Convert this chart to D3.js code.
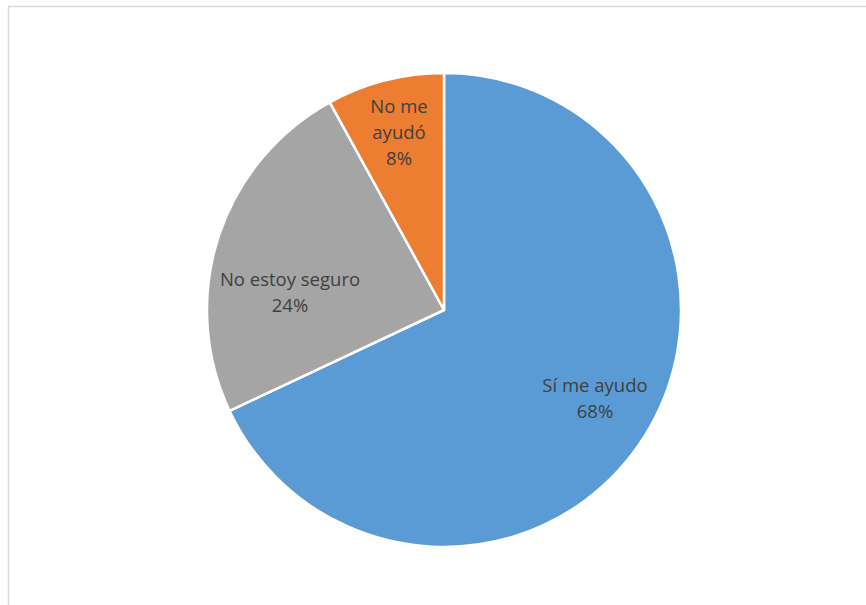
<!DOCTYPE html>
<html>
<head>
<meta charset="utf-8">
<script src="https://cdn.jsdelivr.net/npm/d3@7"></script>
<style>
  html, body { margin: 0; padding: 0; background: #fff; }
  svg { display: block; }
</style>
</head>
<body>
<svg id="chart" width="866" height="605"></svg>
<script>
// Survey responses, in drawing order clockwise from 12 o'clock
const categories = ["Sí me ayudo", "No estoy seguro", "No me ayudó"];
const values = [68, 24, 8];
const colors = ["#5B9BD5", "#A5A5A5", "#ED7D31"];
// Label text lines per slice (last line is the percentage)
const labelLines = [["Sí me ayudo"], ["No estoy seguro"], ["No me", "ayudó"]];
// Label anchor offsets from the pie centre (first-line baseline)
const labelOffsets = [[151, 82], [-154, -24], [-45, -197]];

const svg = d3.select("#chart");
const W = 866, H = 605;

// chart frame
svg.append("rect")
  .attr("x", 8.5).attr("y", 6.5)
  .attr("width", W + 10).attr("height", H + 10)
  .attr("fill", "#fff")
  .attr("stroke", "#d9d9d9")
  .attr("stroke-width", 1.5);

const cx = 444, cy = 310, r = 237;
const g = svg.append("g").attr("transform", `translate(${cx},${cy})`);

const total = d3.sum(values);
const pie = d3.pie().sort(null).value(d => d.value);
const data = categories.map((c, i) => ({ name: c, value: values[i], i }));
const arcs = pie(data);
const arc = d3.arc().innerRadius(0).outerRadius(r);

g.selectAll("path.slice")
  .data(arcs)
  .join("path")
  .attr("class", "slice")
  .attr("d", arc)
  .attr("fill", d => colors[d.data.i])
  .attr("stroke", "#fff")
  .attr("stroke-width", 2.5)
  .attr("stroke-linejoin", "round");

const lineH = 26;
const labels = g.selectAll("text.lbl")
  .data(arcs)
  .join("text")
  .attr("class", "lbl")
  .attr("text-anchor", "middle")
  .attr("font-family", "'Open Sans', Lato, sans-serif")
  .attr("font-size", 18.5)
  .attr("fill", "#404040");

labels.each(function (d) {
  const t = d3.select(this);
  const [ox, oy] = labelOffsets[d.data.i];
  const lines = labelLines[d.data.i].concat([Math.round(d.data.value / total * 100) + "%"]);
  lines.forEach((s, k) => {
    t.append("tspan").attr("x", ox).attr("y", oy + k * lineH).text(s);
  });
});
</script>
</body>
</html>
